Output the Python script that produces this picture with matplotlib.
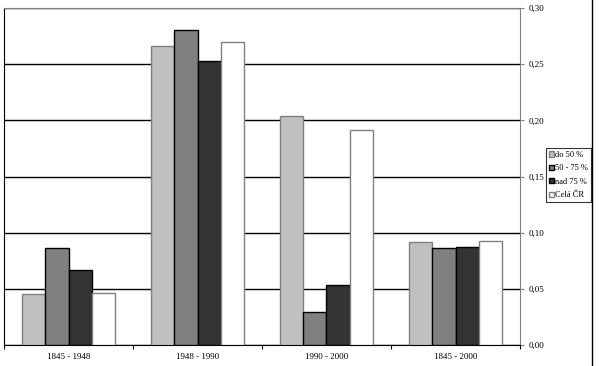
import matplotlib.pyplot as plt
import numpy as np
from matplotlib.lines import Line2D

plt.rcParams['font.family'] = ['Liberation Serif', 'DejaVu Serif']

periods = ['1845 - 1948', '1948 - 1990', '1990 - 2000', '1845 - 2000']
series = ['do 50 %', '50 - 75 %', 'nad 75 %', 'Celá ČR']
do50 = [0.045, 0.266, 0.204, 0.092]
p50_75 = [0.086, 0.280, 0.029, 0.086]
nad75 = [0.067, 0.253, 0.053, 0.087]
cela = [0.046, 0.270, 0.191, 0.093]

values = [do50, p50_75, nad75, cela]
colors = ['#c0c0c0', '#808080', '#333333', '#ffffff']
edges = ['#808080', '#000000', '#000000', '#808080']

fig = plt.figure(figsize=(6, 3.66), dpi=100)
ax = fig.add_axes([4 / 600, 21 / 366, 516 / 600, 337 / 366])

x = np.arange(len(periods))
w = 0.18
for i in range(4):
    ax.bar(x + (i - 1.5) * w, values[i], w, color=colors[i], edgecolor=edges[i],
           linewidth=1, label=series[i], zorder=3)

ax.set_xlim(-0.5, 3.5)
ax.set_ylim(0, 0.30)
yt = np.arange(0, 0.31, 0.05)
ax.set_yticks(yt)
ax.set_yticklabels([('%.2f' % v).replace('.', ',') for v in yt])
ax.yaxis.tick_right()
ax.grid(axis='y', color='black', linewidth=1, zorder=0)
ax.tick_params(axis='y', labelsize=6.5, length=3, width=0.8, color='#808080', pad=3)

ax.set_xticks(x)
ax.set_xticklabels(periods)
ax.tick_params(axis='x', which='major', length=0, labelsize=6.5, pad=6)
ax.set_xticks(np.arange(-0.5, 4, 1), minor=True)
ax.tick_params(axis='x', which='minor', length=3, width=0.8, color='black')

ax.spines['top'].set_color('#808080')
ax.spines['right'].set_color('#808080')
ax.spines['left'].set_color('black')
ax.spines['bottom'].set_color('black')

leg = ax.legend(loc='center left', bbox_to_anchor=(546 / 600, (366 - 175) / 366), bbox_transform=fig.transFigure,
                fontsize=6, frameon=True, fancybox=False, handlelength=0.6, handleheight=0.6,
                handletextpad=0.2, borderpad=0.3, labelspacing=0.65, borderaxespad=0)
leg.get_frame().set_edgecolor('black')
leg.get_frame().set_linewidth(0.8)

fig.add_artist(Line2D([592 / 600, 592 / 600], [0, 1], transform=fig.transFigure, color='black', linewidth=1))

fig.savefig('out.png', dpi=100)
